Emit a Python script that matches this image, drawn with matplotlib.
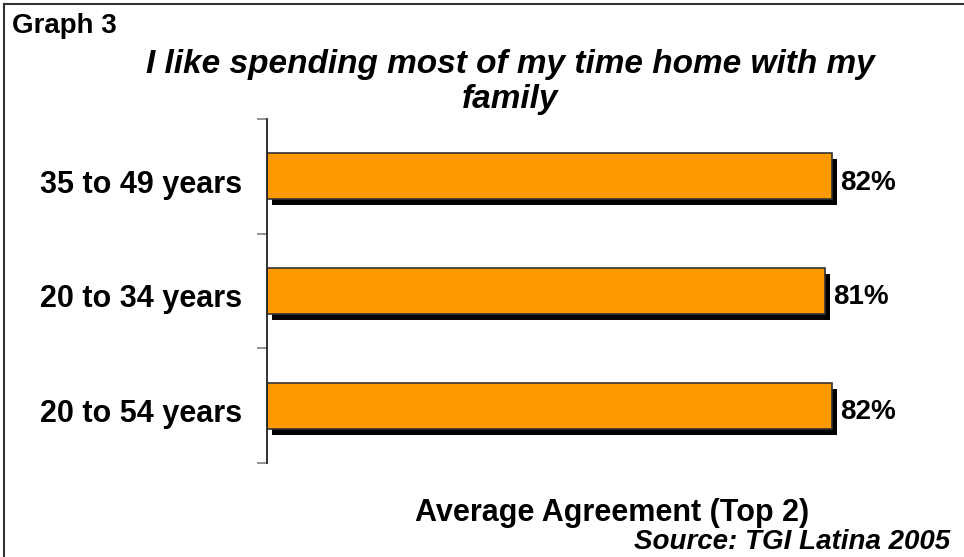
import matplotlib
matplotlib.use("Agg")
import matplotlib.pyplot as plt
import matplotlib.patheffects as pe
from matplotlib.lines import Line2D
from matplotlib.transforms import ScaledTranslation

plt.rcParams['font.family'] = ['Liberation Sans', 'DejaVu Sans']

# agreement by age group (top to bottom)
groups = ['35 to 49 years', '20 to 34 years', '20 to 54 years']
agree = [82, 81, 82]
value_labels = ['82%', '81%', '82%']

W, H = 964, 557
fig = plt.figure(figsize=(W / 100, H / 100), dpi=100)
ax = fig.add_axes([267 / W, 1 - 463 / H, 689 / W, 344 / H])

pos = list(range(len(groups)))
bars = ax.barh(pos, agree, height=0.4, color='#FF9900',
               edgecolor='#333333', linewidth=1.2)
for b in bars:
    b.set_path_effects([pe.SimplePatchShadow(offset=(3.6, -4.3),
                                             shadow_rgbFace='black', alpha=1.0),
                        pe.Normal()])

for p, v, t in zip(pos, agree, value_labels):
    ax.annotate(t, (v, p), xytext=(6, -4.5), textcoords='offset points',
                ha='left', va='center', fontsize=20, fontweight='bold')

ax.set_xlim(0, 100)
ax.set_ylim(-0.5, len(groups) - 0.5)
ax.invert_yaxis()

# boundary ticks without labels, group names on minor ticks
ax.set_yticks([i - 0.5 for i in range(len(groups) + 1)])
ax.set_yticklabels([])
ax.set_yticks(pos, minor=True)
ax.set_yticklabels(groups, minor=True, fontsize=22, fontweight='bold')
ax.tick_params(axis='y', which='major', length=7.2, width=1.2, color='#808080')
ax.tick_params(axis='y', which='minor', length=0, pad=18)
shift = ScaledTranslation(0, -0.05, fig.dpi_scale_trans)
for lab in ax.get_yticklabels(minor=True):
    lab.set_transform(lab.get_transform() + shift)
ax.set_xticks([])
for s in ['top', 'right', 'bottom']:
    ax.spines[s].set_visible(False)
ax.spines['left'].set_color('#222222')
ax.spines['left'].set_linewidth(1.3)

fig.text(12 / W, 1 - 33 / H, 'Graph 3', fontsize=20, fontweight='bold',
         ha='left', va='baseline')
fig.text(510 / W, 1 - 49 / H,
         'I like spending most of my time home with my\nfamily',
         fontsize=24, fontweight='bold', fontstyle='italic',
         ha='center', va='top', multialignment='center', linespacing=1.15)
fig.text(612 / W, 1 - 521 / H, 'Average Agreement (Top 2)', fontsize=22,
         fontweight='bold', ha='center', va='baseline')
fig.text(950 / W, 1 - 549 / H, 'Source: TGI Latina 2005', fontsize=20,
         fontweight='bold', fontstyle='italic', ha='right', va='baseline')

# frame along the top and left edges
fig.add_artist(Line2D([3.5 / W, 1], [1 - 3.5 / H, 1 - 3.5 / H],
                      transform=fig.transFigure, color='#333333', lw=1.5))
fig.add_artist(Line2D([3.5 / W, 3.5 / W], [0, 1 - 3.5 / H],
                      transform=fig.transFigure, color='#333333', lw=1.5))

fig.savefig('out.png', dpi=100)
